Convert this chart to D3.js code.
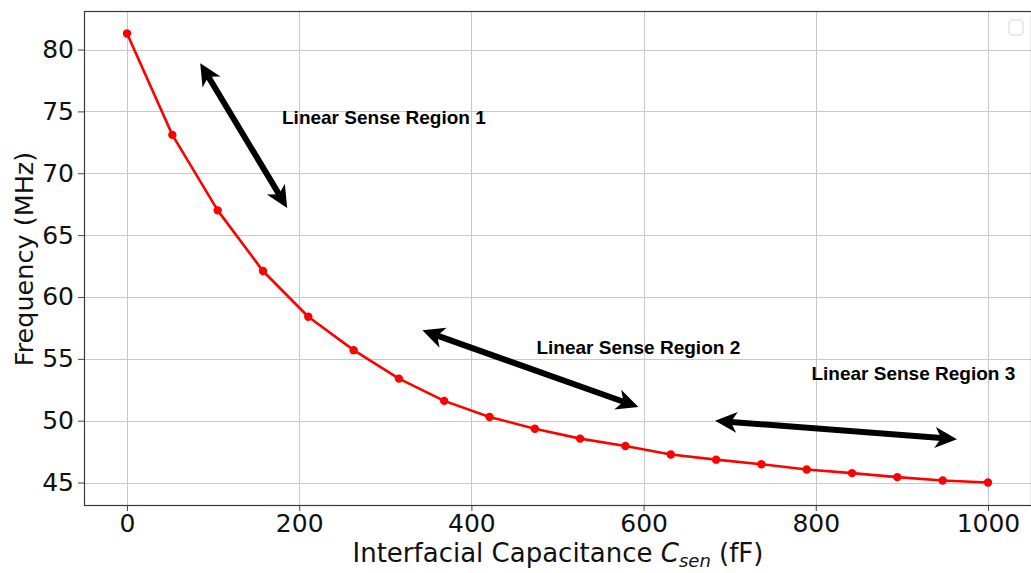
<!DOCTYPE html>
<html>
<head>
<meta charset="utf-8">
<script src="https://cdn.jsdelivr.net/npm/d3@7"></script>
<style>
  html, body { margin: 0; padding: 0; background: #fff; }
  svg { display: block; }
  .tick text { font-family: "DejaVu Sans", sans-serif; }
</style>
</head>
<body>
<svg id="chart" width="1031" height="573"></svg>
<script>
// Oscillation frequency versus interfacial capacitance
const capacitance = [0, 52.6, 105.3, 157.9, 210.5, 263.2, 315.8, 368.4, 421.1, 473.7,
                     526.3, 578.9, 631.6, 684.2, 736.8, 789.5, 842.1, 894.7, 947.4, 1000];
const frequency = [81.3, 73.1, 67.0, 62.1, 58.4, 55.7, 53.4, 51.6, 50.3, 49.35,
                   48.55, 47.95, 47.27, 46.85, 46.48, 46.06, 45.76, 45.44, 45.17, 45.0];

const xTicks = [0, 200, 400, 600, 800, 1000];
const yTicks = [45, 50, 55, 60, 65, 70, 75, 80];

// Region annotations: label anchor and double-headed arrow endpoints (data units)
const regionLabels = ["Linear Sense Region 1", "Linear Sense Region 2", "Linear Sense Region 3"];
const labelX = [180, 475.5, 795];
const labelY = [74.0, 55.4, 53.3];
const arrowX1 = [85, 343, 683];
const arrowY1 = [78.9, 57.3, 50.0];
const arrowX2 = [186, 594, 964];
const arrowY2 = [67.2, 51.1, 48.5];

const svg = d3.select("#chart");
const plot = { left: 84, top: 11, right: 1031, bottom: 505 };

const xMin = d3.min(capacitance), xMax = d3.max(capacitance);
const yMin = d3.min(frequency), yMax = d3.max(frequency);
const xPad = (xMax - xMin) * 0.05, yPad = (yMax - yMin) * 0.05;

const x = d3.scaleLinear().domain([xMin - xPad, xMax + xPad]).range([plot.left, plot.right]);
const y = d3.scaleLinear().domain([yMin - yPad, yMax + yPad]).range([plot.bottom, plot.top]);

// grid
const grid = svg.append("g").attr("stroke", "#c8c8c8").attr("stroke-width", 1);
grid.selectAll("line.vx").data(xTicks).join("line")
  .attr("x1", d => Math.round(x(d)) + 0.5).attr("x2", d => Math.round(x(d)) + 0.5)
  .attr("y1", plot.top).attr("y2", plot.bottom);
grid.selectAll("line.hy").data(yTicks).join("line")
  .attr("y1", d => Math.round(y(d)) + 0.5).attr("y2", d => Math.round(y(d)) + 0.5)
  .attr("x1", plot.left).attr("x2", plot.right);

// axes
const xAxis = svg.append("g").attr("transform", `translate(0,${plot.bottom})`)
  .call(d3.axisBottom(x).tickValues(xTicks).tickFormat(d3.format("d")).tickSize(6).tickPadding(3));
const yAxis = svg.append("g").attr("transform", `translate(${plot.left},0)`)
  .call(d3.axisLeft(y).tickValues(yTicks).tickFormat(d3.format("d")).tickSize(6).tickPadding(4));
[xAxis, yAxis].forEach(a => {
  a.select(".domain").remove();
  a.selectAll(".tick line").attr("stroke", "#444");
  a.selectAll(".tick text").attr("font-size", 25).attr("fill", "#111");
});

// frame
svg.append("rect")
  .attr("x", plot.left + 0.5).attr("y", plot.top + 0.5)
  .attr("width", plot.right - plot.left).attr("height", plot.bottom - plot.top)
  .attr("fill", "none").attr("stroke", "#3a3a3a").attr("stroke-width", 1.2);

// empty legend frame
svg.append("rect").attr("x", 1009).attr("y", 20).attr("width", 14).attr("height", 15)
  .attr("rx", 3).attr("fill", "#fff").attr("stroke", "#d6d6d6").attr("stroke-width", 1);

// data line and markers
const pts = capacitance.map((c, i) => [c, frequency[i]]);
svg.append("path").datum(pts)
  .attr("fill", "none").attr("stroke", "#ff0000").attr("stroke-width", 2.6)
  .attr("stroke-linejoin", "round")
  .attr("d", d3.line().x(d => x(d[0])).y(d => y(d[1])));
svg.append("g").selectAll("circle").data(pts).join("circle")
  .attr("cx", d => x(d[0])).attr("cy", d => y(d[1])).attr("r", 4.2).attr("fill", "#ff0000");

// double-headed arrows
const arrows = svg.append("g");
regionLabels.forEach((_, i) => {
  const p1 = [x(arrowX1[i]), y(arrowY1[i])];
  const p2 = [x(arrowX2[i]), y(arrowY2[i])];
  const dx = p2[0] - p1[0], dy = p2[1] - p1[1];
  const len = Math.hypot(dx, dy);
  const ux = dx / len, uy = dy / len, nx = -uy, ny = ux;
  const L = 22, Wd = 10.5, notch = 0.72;
  arrows.append("line")
    .attr("x1", p1[0] + ux * L * notch).attr("y1", p1[1] + uy * L * notch)
    .attr("x2", p2[0] - ux * L * notch).attr("y2", p2[1] - uy * L * notch)
    .attr("stroke", "#000").attr("stroke-width", 6);
  const head = (tip, sx, sy) => {
    const b = [tip[0] + sx * L, tip[1] + sy * L];
    const n = [tip[0] + sx * L * notch, tip[1] + sy * L * notch];
    return [tip, [b[0] + nx * Wd, b[1] + ny * Wd], n, [b[0] - nx * Wd, b[1] - ny * Wd]];
  };
  [head(p1, ux, uy), head(p2, -ux, -uy)].forEach(poly => {
    arrows.append("path")
      .attr("d", "M" + poly.map(p => p.join(",")).join("L") + "Z")
      .attr("fill", "#000");
  });
});

// region labels
svg.append("g").selectAll("text").data(regionLabels).join("text")
  .attr("x", (d, i) => x(labelX[i])).attr("y", (d, i) => y(labelY[i]))
  .attr("font-family", "Liberation Sans, Arial, sans-serif")
  .attr("font-weight", "bold").attr("font-size", 19).attr("fill", "#000")
  .text(d => d);

// axis titles
const xt = svg.append("text")
  .attr("x", 558).attr("y", 562)
  .attr("text-anchor", "middle")
  .attr("font-family", "DejaVu Sans, sans-serif").attr("font-size", 26).attr("fill", "#111");
xt.append("tspan").text("Interfacial Capacitance ");
xt.append("tspan").attr("font-style", "italic").text("C");
xt.append("tspan").attr("font-style", "italic").attr("font-size", 18).attr("dy", 5).text("sen");
xt.append("tspan").attr("dy", -5).text(" (fF)");

svg.append("text")
  .attr("transform", `translate(33,259) rotate(-90)`)
  .attr("text-anchor", "middle")
  .attr("font-family", "DejaVu Sans, sans-serif").attr("font-size", 25.5).attr("fill", "#111")
  .text("Frequency (MHz)");
</script>
</body>
</html>
